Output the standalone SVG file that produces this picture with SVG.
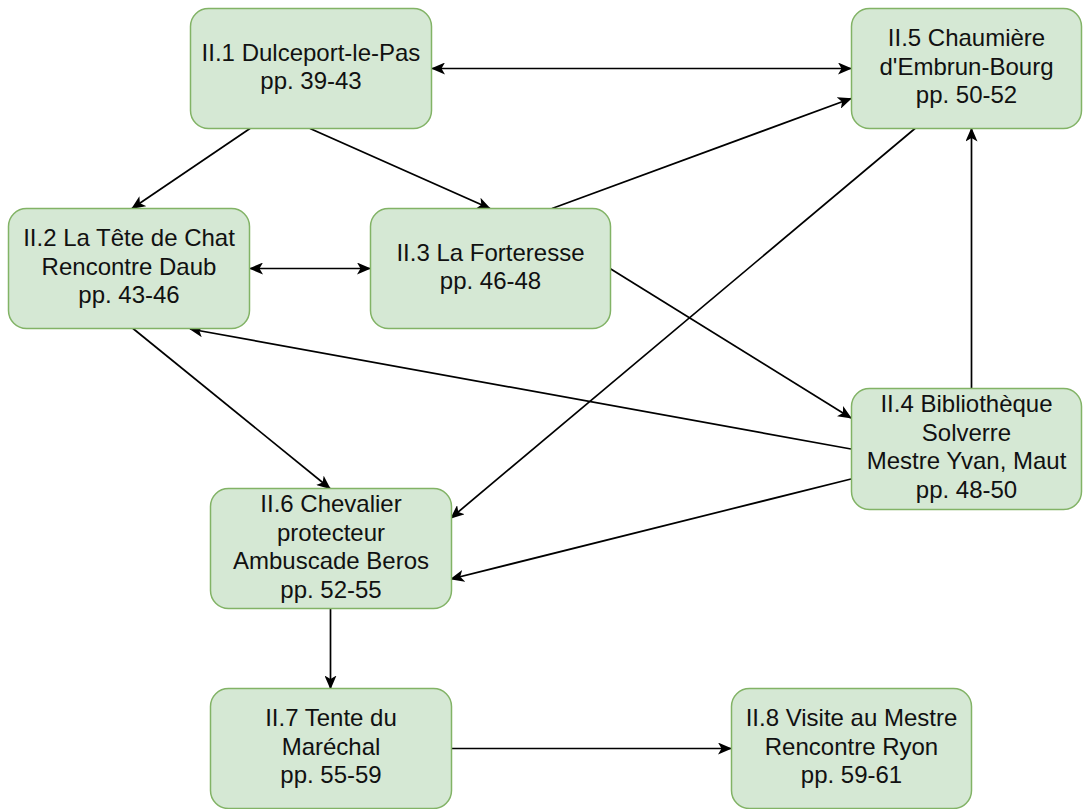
<svg xmlns="http://www.w3.org/2000/svg" width="1083" height="809" viewBox="0 0 1083 809">
  <style>
    .box { fill: #d5e8d4; stroke: #82b366; stroke-width: 1.5; }
    .lbl { font-family: "Liberation Sans", Arial, sans-serif; font-size: 24px; fill: #111; text-anchor: middle; }
    .edge { fill: none; stroke: #000; stroke-width: 1.7; }
  </style>
  <defs>
    <marker id="arrow" viewBox="0 0 14 12" refX="13" refY="6" markerWidth="14" markerHeight="12" markerUnits="userSpaceOnUse" orient="auto-start-reverse">
      <path d="M0,0 L14,6 L0,12 L3.5,6 Z" fill="#000"/>
    </marker>
  </defs>
  <rect width="1083" height="809" fill="#ffffff"/>

  <g id="connectors">
    <line class="edge" x1="432" y1="68.5" x2="851" y2="68.5" marker-start="url(#arrow)" marker-end="url(#arrow)"/>
    <line class="edge" x1="250" y1="128.5" x2="132" y2="208.5" marker-end="url(#arrow)"/>
    <line class="edge" x1="310" y1="128.5" x2="490" y2="208.5" marker-end="url(#arrow)"/>
    <line class="edge" x1="250" y1="268.5" x2="370" y2="268.5" marker-start="url(#arrow)" marker-end="url(#arrow)"/>
    <line class="edge" x1="552" y1="208.5" x2="851" y2="98.5" marker-end="url(#arrow)"/>
    <line class="edge" x1="915" y1="128.5" x2="451" y2="518" marker-end="url(#arrow)"/>
    <line class="edge" x1="610" y1="268.5" x2="851" y2="418" marker-end="url(#arrow)"/>
    <line class="edge" x1="971.5" y1="388.5" x2="971.5" y2="128.5" marker-end="url(#arrow)"/>
    <line class="edge" x1="851" y1="449" x2="190" y2="329" marker-end="url(#arrow)"/>
    <line class="edge" x1="851" y1="479" x2="451" y2="579" marker-end="url(#arrow)"/>
    <line class="edge" x1="133" y1="328.5" x2="330" y2="488.5" marker-end="url(#arrow)"/>
    <line class="edge" x1="330.5" y1="608.5" x2="330.5" y2="688.5" marker-end="url(#arrow)"/>
    <line class="edge" x1="451" y1="748.5" x2="731" y2="748.5" marker-end="url(#arrow)"/>
  </g>

  <g id="n1">
    <rect class="box" x="190.5" y="8.5" width="241" height="120" rx="18"/>
    <text class="lbl"><tspan x="311" y="60.5">II.1 Dulceport-le-Pas</tspan><tspan x="311" y="89">pp. 39-43</tspan></text>
  </g>
  <g id="n2">
    <rect class="box" x="8.5" y="208.5" width="241" height="120" rx="18"/>
    <text class="lbl"><tspan x="129" y="246">II.2 La Tête de Chat</tspan><tspan x="129" y="274.5">Rencontre Daub</tspan><tspan x="129" y="303">pp. 43-46</tspan></text>
  </g>
  <g id="n3">
    <rect class="box" x="370.5" y="208.5" width="240" height="120" rx="18"/>
    <text class="lbl"><tspan x="490.5" y="260.5">II.3 La Forteresse</tspan><tspan x="490.5" y="289">pp. 46-48</tspan></text>
  </g>
  <g id="n4">
    <rect class="box" x="851.5" y="388.5" width="230" height="121" rx="18"/>
    <text class="lbl"><tspan x="966.5" y="412">II.4 Bibliothèque</tspan><tspan x="966.5" y="440.5">Solverre</tspan><tspan x="966.5" y="469">Mestre Yvan, Maut</tspan><tspan x="966.5" y="497.5">pp. 48-50</tspan></text>
  </g>
  <g id="n5">
    <rect class="box" x="851.5" y="8.5" width="230" height="120" rx="18"/>
    <text class="lbl"><tspan x="966.5" y="46">II.5 Chaumière</tspan><tspan x="966.5" y="74.5">d'Embrun-Bourg</tspan><tspan x="966.5" y="103">pp. 50-52</tspan></text>
  </g>
  <g id="n6">
    <rect class="box" x="210.5" y="488.5" width="241" height="120" rx="18"/>
    <text class="lbl"><tspan x="331" y="512">II.6 Chevalier</tspan><tspan x="331" y="540.5">protecteur</tspan><tspan x="331" y="569">Ambuscade Beros</tspan><tspan x="331" y="597.5">pp. 52-55</tspan></text>
  </g>
  <g id="n7">
    <rect class="box" x="210.5" y="688.5" width="241" height="120" rx="18"/>
    <text class="lbl"><tspan x="331" y="726">II.7 Tente du</tspan><tspan x="331" y="754.5">Maréchal</tspan><tspan x="331" y="783">pp. 55-59</tspan></text>
  </g>
  <g id="n8">
    <rect class="box" x="731.5" y="688.5" width="240" height="120" rx="18"/>
    <text class="lbl"><tspan x="851.5" y="726">II.8 Visite au Mestre</tspan><tspan x="851.5" y="754.5">Rencontre Ryon</tspan><tspan x="851.5" y="783">pp. 59-61</tspan></text>
  </g>
</svg>
